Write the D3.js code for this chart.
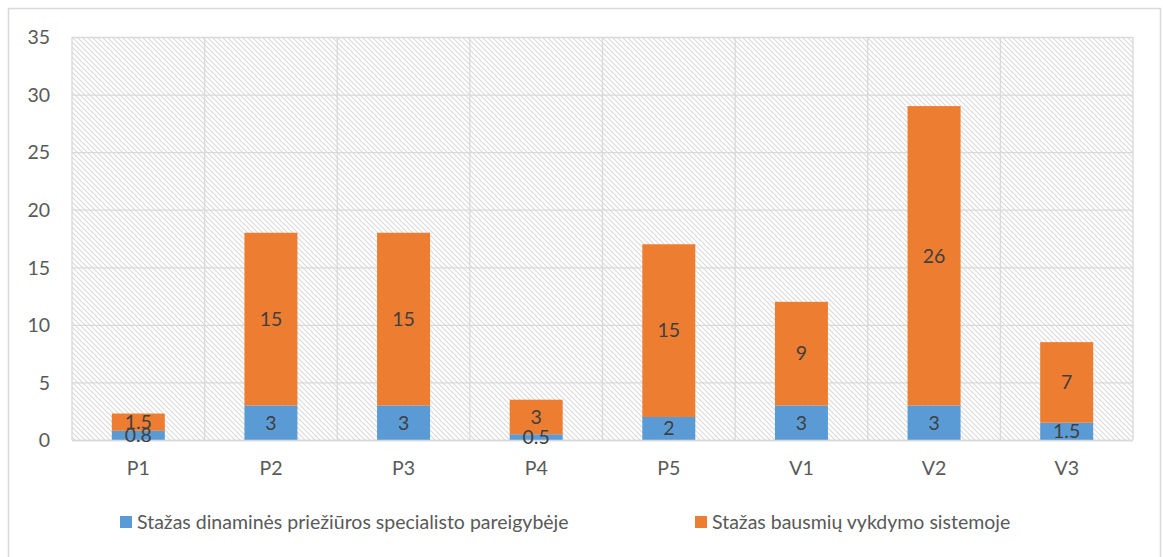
<!DOCTYPE html>
<html><head><meta charset="utf-8">
<script src="https://cdn.jsdelivr.net/npm/d3@7"></script>
<style>body{margin:0;background:#fff;} text{font-family:Lato,"Open Sans",sans-serif;}</style>
</head><body><svg id="c" width="1163" height="557"></svg>
<script>
const categories = ["P1","P2","P3","P4","P5","V1","V2","V3"];
const seriesNames = ["Stažas dinaminės priežiūros specialisto pareigybėje","Stažas bausmių vykdymo sistemoje"];
const dynValues = [0.8,3,3,0.5,2,3,3,1.5];
const penValues = [1.5,15,15,3,15,9,26,7];
const yTicks = [0,5,10,15,20,25,30,35];
const colors = ["#5B9BD5","#ED7D31"];

const FS = 19.5;
const svg = d3.select("#c");
svg.append("rect").attr("x",8.5).attr("y",8.5).attr("width",1152).attr("height",560)
  .attr("fill","#fff").attr("stroke","#d9d9d9").attr("stroke-width",1.5);

const defs = svg.append("defs");
const pat = defs.append("pattern").attr("id","hatch").attr("patternUnits","userSpaceOnUse")
  .attr("width",5).attr("height",5);
pat.append("rect").attr("width",5).attr("height",5).attr("fill","#fff");
pat.append("path").attr("d","M-1,-1 L6,6 M-1,4 L1,6 M4,-1 L6,1").attr("stroke","#dadada").attr("stroke-width",1.1);

const L=72, R=1133, T=37, B=440;
const xb = d3.scaleBand().domain(categories).range([L,R]);
const y = d3.scaleLinear().domain([0,35]).range([B,T]);

svg.append("rect").attr("x",L).attr("y",T).attr("width",R-L).attr("height",B-T).attr("fill","url(#hatch)");

// gridlines
svg.append("g").selectAll("line").data(yTicks).join("line")
  .attr("x1",L).attr("x2",R).attr("y1",d=>y(d)+0.5).attr("y2",d=>y(d)+0.5)
  .attr("stroke","#d9d9d9").attr("stroke-width",1.3);
const bounds = categories.map(c=>xb(c)).concat([R]);
svg.append("g").selectAll("line").data(bounds).join("line")
  .attr("x1",d=>d).attr("x2",d=>d).attr("y1",T).attr("y2",B)
  .attr("stroke","#d9d9d9").attr("stroke-width",1.3);

// y axis labels
const yAxis = d3.axisLeft(y).tickValues(yTicks).tickSize(0).tickPadding(0);
const ga = svg.append("g").attr("transform",`translate(${L-22},0)`).call(yAxis);
ga.select(".domain").remove();
ga.selectAll("text").attr("font-size",FS).attr("fill","#595959").attr("font-family","Lato,'Open Sans',sans-serif").attr("dy","0.35em");

// x axis
const xAxis = d3.axisBottom(xb).tickSize(0).tickPadding(0);
const gx = svg.append("g").attr("transform",`translate(0,${B+21})`).call(xAxis);
gx.select(".domain").remove();
gx.selectAll("text").attr("font-size",FS).attr("fill","#595959").attr("font-family","Lato,'Open Sans',sans-serif").attr("dy","0.71em");

// stacked bars
const rows = categories.map((c,i)=>({cat:c, dyn:dynValues[i], pen:penValues[i]}));
const stack = d3.stack().keys(["dyn","pen"])(rows);
const bw = 53;
stack.forEach((s,si)=>{
  svg.append("g").selectAll("rect").data(s).join("rect")
    .attr("x",d=>xb(d.data.cat)+xb.bandwidth()/2-bw/2).attr("width",bw)
    .attr("y",d=>y(d[1])).attr("height",d=>y(d[0])-y(d[1]))
    .attr("fill",colors[si]);
});
svg.append("line").attr("x1",L).attr("x2",R).attr("y1",B+0.5).attr("y2",B+0.5).attr("stroke","#d9d9d9").attr("stroke-width",1.5);

stack.forEach((s,si)=>{
  svg.append("g").selectAll("text").data(s).join("text")
    .attr("x",d=>xb(d.data.cat)+xb.bandwidth()/2)
    .attr("y",d=>y((d[0]+d[1])/2))
    .attr("dy","0.35em").attr("text-anchor","middle")
    .attr("font-size",FS).attr("fill","#404040")
    .text(d=>d[1]-d[0]>0?String(+(d[1]-d[0]).toFixed(2)):"");
});

// legend
const legX = [120,695];
seriesNames.forEach((n,i)=>{
  const g = svg.append("g").attr("transform",`translate(${legX[i]},0)`);
  g.append("rect").attr("x",0).attr("y",516).attr("width",12).attr("height",12).attr("fill",colors[i]);
  g.append("text").attr("x",17).attr("y",522).attr("dy","0.35em").attr("font-size",FS).attr("fill","#595959").text(n);
});
</script></body></html>
